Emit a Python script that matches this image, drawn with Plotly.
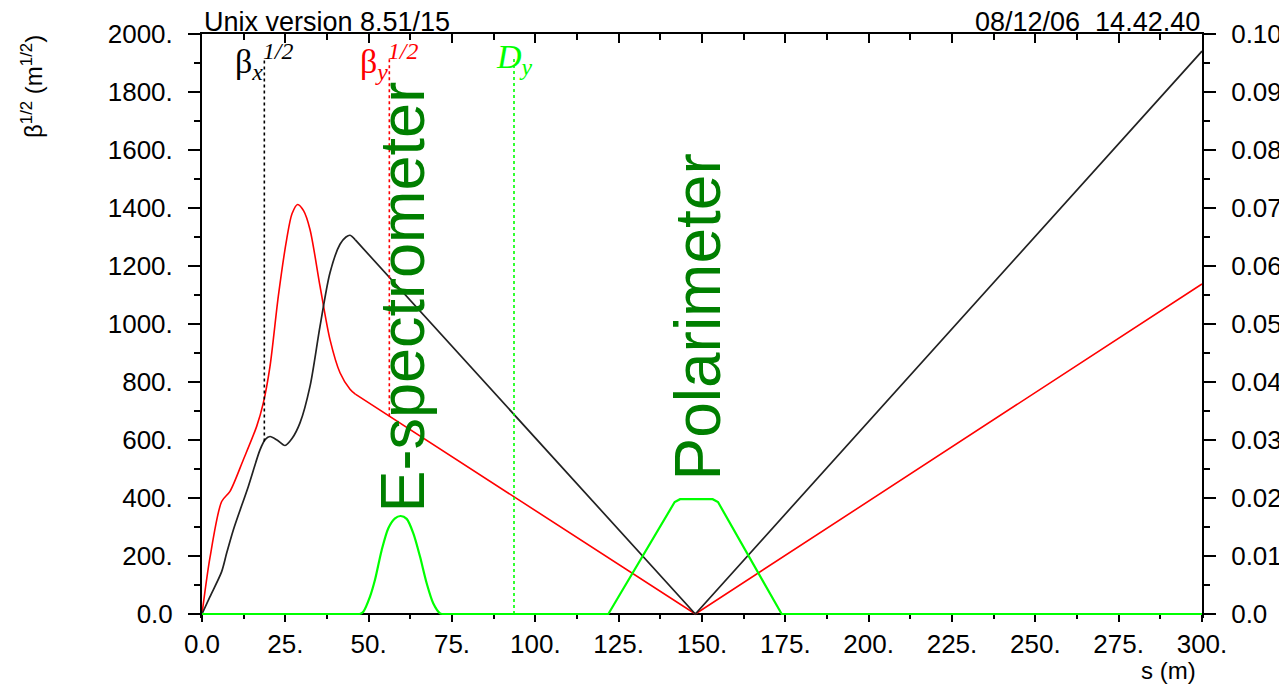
import numpy as np
import plotly.graph_objects as go

# ---- data ----
S_BX = [0, 2.4, 5.9, 7.4, 9.4, 13.9, 17.4, 19.0, 20.4, 22.5, 24.9, 27.0, 29.4,
        32.4, 35.4, 38.4, 41.4, 43.2, 44.4, 46.0, 148.0, 300.0]
BX = [0, 60, 146, 210, 290, 440, 566, 602, 612, 600, 581, 605, 659,
      785, 992, 1177, 1275, 1300, 1306, 1290, 0, 1941]

S_BY = [0, 2.4, 5.9, 8.4, 12.4, 16.4, 18.4, 20.4, 22.9, 25.4, 27.0, 28.7,
        30.5, 32.4, 35.4, 38.4, 41.4, 44.4, 46.0, 148.0, 300.0]
BY = [0, 195, 388, 423, 532, 647, 728, 854, 1096, 1292, 1380, 1412,
      1390, 1326, 1131, 946, 832, 775, 758, 0, 1138]

S_DY = [0, 47.4, 48.4, 50.4, 51.9, 53.9, 55.9, 57.9, 59.6, 61.4, 63.4, 65.4,
        67.4, 69.4, 71.4, 72.0, 121.9, 141.8, 143.4, 153.2, 154.8, 173.9, 300.0]
DY = [0, 0, 0.0004, 0.003, 0.0059, 0.011, 0.0148, 0.0165, 0.0169, 0.0164,
      0.0139, 0.0099, 0.0053, 0.0018, 0.0001, 0, 0, 0.0193, 0.0198, 0.0198,
      0.0193, 0, 0]

X_TICKS = [0, 25, 50, 75, 100, 125, 150, 175, 200, 225, 250, 275, 300]
X_TEXT = ["0.0", "25.", "50.", "75.", "100.", "125.", "150.", "175.", "200.",
          "225.", "250.", "275.", "300."]
Y_TICKS = [0, 200, 400, 600, 800, 1000, 1200, 1400, 1600, 1800, 2000]
Y_TEXT = ["0.0", "200.", "400.", "600.", "800.", "1000.", "1200.", "1400.",
          "1600.", "1800.", "2000."]
Y2_TICKS = [0, 0.01, 0.02, 0.03, 0.04, 0.05, 0.06, 0.07, 0.08, 0.09, 0.10]
Y2_TEXT = ["0.0", "0.01", "0.02", "0.03", "0.04", "0.05", "0.06", "0.07",
           "0.08", "0.09", "0.10"]

# legend markers (s positions of the MAD-style labels)
LEGEND_S = [18.7, 56.2, 93.6]
LEGEND_TOP = 1915

BLACK = "#222222"
RED = "#ff0000"
GREEN = "#00ff00"
DKGREEN = "#007f00"
SANS = "Liberation Sans, Arial, Helvetica, sans-serif"
SERIF = "Liberation Serif, Times New Roman, serif"

# layout geometry: 580 px of data height, plus a few px of padding below y=0
# so lines lying on y=0 are not clipped by the plot area
H_DATA = 580
PAD = 4
Y_MAX = Y_TICKS[-1]
Y2_MAX = Y2_TICKS[-1]
y_range = [-Y_MAX * PAD / H_DATA, Y_MAX]
y2_range = [-Y2_MAX * PAD / H_DATA, Y2_MAX]
x_pos = PAD / (H_DATA + PAD)

def mids(v):
    return [(a + b) / 2 for a, b in zip(v[:-1], v[1:])]

def pieces(xs, ys, cuts):
    """split a polyline at the given x values (shared end points)"""
    idx = [0] + [xs.index(c) for c in cuts] + [len(xs) - 1]
    return [(xs[a:b + 1], ys[a:b + 1]) for a, b in zip(idx[:-1], idx[1:])]

def add_line(xs, ys, color, width, spline, yaxis="y"):
    line = dict(color=color, width=width)
    if spline:
        line.update(shape="spline", smoothing=0.8)
    fig.add_trace(go.Scatter(x=xs, y=ys, mode="lines", yaxis=yaxis, line=line,
                             cliponaxis=False, showlegend=False, hoverinfo="skip"))

fig = go.Figure()

for k, (xs, ys) in enumerate(pieces(S_DY, DY, [47.4, 72.0])):
    add_line(xs, ys, GREEN, 2.2, k == 1, "y2")
for k, (xs, ys) in enumerate(pieces(S_BY, BY, [46.0])):
    add_line(xs, ys, RED, 1.6, k == 0)
for k, (xs, ys) in enumerate(pieces(S_BX, BX, [46.0])):
    add_line(xs, ys, BLACK, 1.7, k == 0)

# invisible trace to anchor the top (mirror) axis
fig.add_trace(go.Scatter(x=[0, 300], y=[0, 0], xaxis="x2", mode="lines",
                         line=dict(width=0), opacity=0, showlegend=False,
                         hoverinfo="skip"))

# dotted legend marker lines
bx_at = float(np.interp(LEGEND_S[0], S_BX, BX))
by_at = float(np.interp(LEGEND_S[1], S_BY, BY))
dy_at = float(np.interp(LEGEND_S[2], S_DY, DY))
fig.add_shape(type="line", xref="x", yref="y", x0=LEGEND_S[0], x1=LEGEND_S[0],
              y0=bx_at, y1=LEGEND_TOP, line=dict(color="black", width=1.6, dash="dot"))
fig.add_shape(type="line", xref="x", yref="y", x0=LEGEND_S[1], x1=LEGEND_S[1],
              y0=by_at, y1=LEGEND_TOP, line=dict(color=RED, width=1.6, dash="dot"))
fig.add_shape(type="line", xref="x", yref="y", x0=LEGEND_S[2], x1=LEGEND_S[2],
              y0=dy_at * Y_MAX / Y2_MAX, y1=LEGEND_TOP,
              line=dict(color=GREEN, width=1.6, dash="dot"))

tickfont = dict(family=SANS, size=26, color="black")

fig.update_layout(
    width=1287, height=686,
    margin=dict(l=194, r=93, t=26, b=80 - PAD, autoexpand=False),
    paper_bgcolor="white", plot_bgcolor="white",
    showlegend=False,
    xaxis=dict(range=[0, 300], tickmode="array", tickvals=X_TICKS, ticktext=X_TEXT,
               ticks="outside", ticklen=7, tickwidth=1.5, tickcolor="black",
               minor=dict(tickmode="array", tickvals=mids(X_TICKS), ticks="outside",
                          ticklen=4, tickwidth=1.5, tickcolor="black"),
               showline=False, showgrid=False, zeroline=False, tickfont=tickfont,
               anchor="free", position=x_pos, automargin=False),
    xaxis2=dict(range=[0, 300], overlaying="x", side="top", anchor="y",
                tickmode="array", tickvals=X_TICKS, ticks="inside", ticklen=9,
                tickwidth=1.5, tickcolor="black",
                minor=dict(tickmode="array", tickvals=mids(X_TICKS), ticks="inside",
                           ticklen=6, tickwidth=1.5, tickcolor="black"),
                showticklabels=False, showline=True, linecolor="black", linewidth=2,
                showgrid=False, zeroline=False, automargin=False),
    yaxis=dict(range=y_range, tickmode="array", tickvals=Y_TICKS, ticktext=Y_TEXT,
               ticks="outside", ticklen=12, tickwidth=1.5, tickcolor="black",
               minor=dict(tickmode="array", tickvals=mids(Y_TICKS), ticks="outside",
                          ticklen=6, tickwidth=1.5, tickcolor="black"),
               showline=True, linecolor="black", linewidth=2,
               showgrid=False, zeroline=True, zerolinecolor="black", zerolinewidth=2,
               tickfont=tickfont, ticklabelstandoff=10, anchor="x", automargin=False),
    yaxis2=dict(range=y2_range, overlaying="y", side="right", anchor="x",
                tickmode="array", tickvals=Y2_TICKS, ticktext=Y2_TEXT,
                ticks="outside", ticklen=12, tickwidth=1.5, tickcolor="black",
                minor=dict(tickmode="array", tickvals=mids(Y2_TICKS), ticks="outside",
                           ticklen=6, tickwidth=1.5, tickcolor="black"),
                showline=True, linecolor="black", linewidth=2,
                showgrid=False, zeroline=False, tickfont=tickfont,
                ticklabelstandoff=10, automargin=False),
)

# paper-y for a pixel row measured from the top of the data area
def py(px_from_top):
    return (H_DATA + PAD - px_from_top) / (H_DATA + PAD)

ann = []
ann.append(dict(text="Unix version 8.51/15", xref="paper", yref="paper",
                x=0.0, y=1.0, xanchor="left", yanchor="bottom", yshift=-5,
                showarrow=False, font=dict(family=SANS, size=27, color="black")))
ann.append(dict(text="08/12/06  14.42.40", xref="paper", yref="paper",
                x=1.0, y=1.0, xanchor="right", yanchor="bottom", yshift=-5,
                showarrow=False, font=dict(family=SANS, size=27, color="black")))
ann.append(dict(text="s (m)", xref="paper", yref="paper", x=0.966, y=py(636),
                xanchor="center", yanchor="middle", showarrow=False,
                font=dict(family=SANS, size=24, color="black")))
ann.append(dict(text="β<sup>1/2</sup> (m<sup>1/2</sup>)", xref="paper", yref="paper",
                x=-0.17, y=py(53), xanchor="center", yanchor="middle", textangle=-90,
                showarrow=False, font=dict(family=SANS, size=24, color="black")))
ann.append(dict(text="β<sub><i>x</i></sub><sup><i>1/2</i></sup>", xref="x", yref="paper",
                x=LEGEND_S[0], y=py(2), xanchor="center", yanchor="top",
                showarrow=False, font=dict(family=SERIF, size=34, color="black")))
ann.append(dict(text="β<sub><i>y</i></sub><sup><i>1/2</i></sup>", xref="x", yref="paper",
                x=LEGEND_S[1], y=py(2), xanchor="center", yanchor="top",
                showarrow=False, font=dict(family=SERIF, size=34, color=RED)))
ann.append(dict(text="<i>D</i><sub><i>y</i></sub>", xref="x", yref="paper",
                x=LEGEND_S[2], y=py(2), xanchor="center", yanchor="top",
                showarrow=False, font=dict(family=SERIF, size=34, color=GREEN)))
ann.append(dict(text="E-spectrometer", xref="paper", yref="paper",
                x=(401 - 202) / 1000, y=py(297.5 - 34), xanchor="center",
                yanchor="middle", textangle=-90, showarrow=False,
                font=dict(family=SANS, size=63, color=DKGREEN)))
ann.append(dict(text="Polarimeter", xref="paper", yref="paper",
                x=(697 - 202) / 1000, y=py(317.5 - 34), xanchor="center",
                yanchor="middle", textangle=-90, showarrow=False,
                font=dict(family=SANS, size=64, color=DKGREEN)))
fig.update_layout(annotations=ann)

fig.write_html("out.html")
